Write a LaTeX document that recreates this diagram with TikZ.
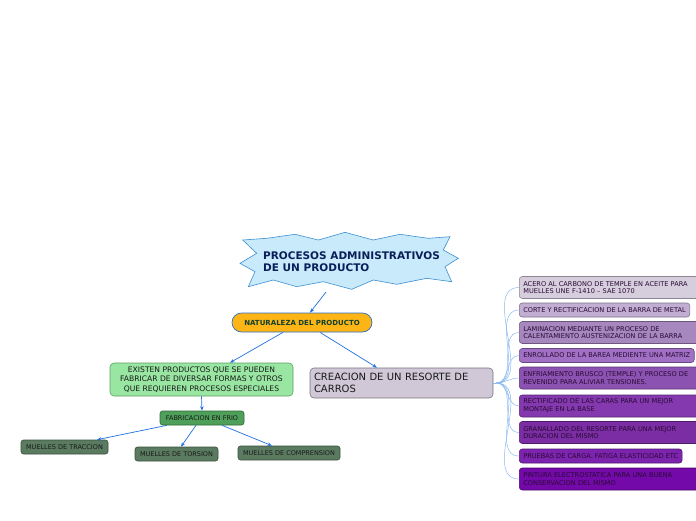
\documentclass[tikz,border=0pt]{standalone}
\usepackage{fontspec}
\setmainfont{DejaVu Sans}
\usetikzlibrary{arrows.meta}

\definecolor{starfill}{HTML}{C8EAFB}
\definecolor{starline}{HTML}{3C8FD0}
\definecolor{titleink}{HTML}{0A1F5A}
\definecolor{natfill}{HTML}{FDB515}
\definecolor{natline}{HTML}{2A6FC8}
\definecolor{natink}{HTML}{0F4030}
\definecolor{arrowblue}{HTML}{1F6FE0}
\definecolor{twigblue}{HTML}{8AB8F0}
\definecolor{exfill}{HTML}{98E6A2}
\definecolor{exline}{HTML}{5E9E66}
\definecolor{fabfill}{HTML}{4E9F5A}
\definecolor{fabline}{HTML}{2F6A38}
\definecolor{mufill}{HTML}{5B7B61}
\definecolor{muline}{HTML}{3A4F3E}
\definecolor{crfill}{HTML}{D0C8D6}
\definecolor{crline}{HTML}{7A7280}
\definecolor{rone}{HTML}{D6CEDD}
\definecolor{rtwo}{HTML}{C2AED3}
\definecolor{rthree}{HTML}{A688BF}
\definecolor{rfour}{HTML}{A070C4}
\definecolor{rfive}{HTML}{8C52B2}
\definecolor{rsix}{HTML}{8439AF}
\definecolor{rseven}{HTML}{7B2DA3}
\definecolor{reight}{HTML}{7C24AE}
\definecolor{rnine}{HTML}{7409A9}
\definecolor{rink}{HTML}{2A0A35}

\tikzset{
  arr/.style={-{Stealth[length=4.5pt,width=3.5pt]}, draw=arrowblue, line width=0.7pt},
  twig/.style={draw=twigblue, line width=0.5pt},
  muelle/.style={draw=muline, fill=mufill, rounded corners=2.5pt, line width=0.6pt,
    font=\fontsize{6.5}{7.8}\selectfont, text=black!90, minimum height=14pt, inner xsep=4pt, inner ysep=0pt},
  rbox/.style={draw=#1!65!black, fill=#1, rounded corners=3pt, line width=0.6pt, anchor=west,
    font=\fontsize{6.6}{7.8}\selectfont, text=rink, align=left, inner xsep=4pt, inner ysep=0pt},
}

\begin{document}
\begin{tikzpicture}[x=1pt, y=-1pt]
    \useasboundingbox (0,0) rectangle (696,520);

    % Title star
    \draw[draw=starline, fill=starfill, line width=0.6pt]
        (242.7,240) -- (266.7,238.3) -- (295,234.3) -- (318.3,240) -- (345,232.3)
        -- (373.3,240) -- (400,234.3) -- (428.3,238.3) -- (450,236.7) -- (443.3,250)
        -- (458.3,258.3) -- (445,266.7) -- (451.7,281.7) -- (426.7,278.3) -- (396.7,284.3)
        -- (373.3,280) -- (351.7,289.3) -- (323.3,281.7) -- (296.7,286.7) -- (273.3,280)
        -- (248.3,286.7) -- (255,271.7) -- (240,263.3) -- (256.7,253.3) -- cycle;
    \node[font=\fontsize{10.5}{12.3}\selectfont\bfseries, text=titleink, align=left, inner sep=0pt]
        (title) at (351.5,261.5) {PROCESOS ADMINISTRATIVOS\\DE UN PRODUCTO};
    \coordinate (titlefoot) at (326,292);

    % Main branch
    \node[draw=natline, fill=natfill, rounded corners=9.5pt, line width=0.7pt,
          minimum width=140pt, minimum height=19pt, inner sep=0pt,
          font=\fontsize{7}{8}\selectfont\bfseries, text=natink]
        (naturaleza) at (302,322.5) {NATURALEZA DEL PRODUCTO};

    \node[draw=exline, fill=exfill, rounded corners=4pt, line width=0.6pt,
          minimum width=183pt, minimum height=33pt, inner sep=0pt, align=center,
          font=\fontsize{7.6}{9.2}\selectfont, text=black!90]
        (existen) at (201.5,379.5) {EXISTEN PRODUCTOS QUE SE PUEDEN\\FABRICAR DE DIVERSAR FORMAS Y OTROS\\QUE REQUIEREN PROCESOS ESPECIALES};

    \node[draw=crline, fill=crfill, rounded corners=4pt, line width=0.6pt,
          minimum height=30pt, inner xsep=4pt, inner ysep=0pt, text width=175pt, align=left,
          font=\fontsize{10}{11.7}\selectfont, text=black!90]
        (creacion) at (401.5,383) {CREACION DE UN RESORTE DE\\CARROS};
    \coordinate (hub) at ([xshift=3pt]creacion.east);

    % Cold forming branch
    \node[draw=fabline, fill=fabfill, rounded corners=2.5pt, line width=0.6pt,
          minimum width=84pt, minimum height=14pt, inner sep=0pt,
          font=\fontsize{6.5}{7.8}\selectfont, text=black!90]
        (fabricacion) at (202,418) {FABRICACION EN FRIO};

    \node[muelle, minimum width=87pt] (traccion) at (64.5,447) {MUELLES DE TRACCION};
    \node[muelle, minimum width=83pt] (torsion) at (176.5,454) {MUELLES DE TORSION};
    \node[muelle, minimum width=102pt] (compresion) at (289,453) {MUELLES DE COMPRENSION};

    % Process steps
    \node[rbox=rone, text width=190pt, minimum height=22pt] (r1) at (519,287.5)
        {ACERO AL CARBONO DE TEMPLE EN ACEITE PARA\\MUELLES UNE F-1410 -- SAE 1070};
    \node[rbox=rtwo, minimum height=14pt] (r2) at (519,310)
        {CORTE Y RECTIFICACION DE LA BARRA DE METAL};
    \node[rbox=rthree, text width=190pt, minimum height=22pt] (r3) at (519,332.5)
        {LAMINACION MEDIANTE UN PROCESO DE\\CALENTAMIENTO AUSTENIZACION DE LA BARRA};
    \node[rbox=rfour, minimum height=14pt] (r4) at (519,355.5)
        {ENROLLADO DE LA BAREA MEDIENTE UNA MATRIZ};
    \node[rbox=rfive, text width=190pt, minimum height=22pt] (r5) at (519,378)
        {ENFRIAMIENTO BRUSCO (TEMPLE) Y PROCESO DE\\REVENIDO PARA ALIVIAR TENSIONES.};
    \node[rbox=rsix, text width=190pt, minimum height=22pt] (r6) at (519,406)
        {RECTIFICADO DE LAS CARAS PARA UN MEJOR\\MONTAJE EN LA BASE};
    \node[rbox=rseven, text width=190pt, minimum height=22pt] (r7) at (519,432.5)
        {GRANALLADO DEL RESORTE PARA UNA MEJOR\\DURACION DEL MISMO};
    \node[rbox=reight, minimum height=14pt] (r8) at (519,456)
        {PRUEBAS DE CARGA. FATIGA ELASTICIDAD ETC};
    \node[rbox=rnine, text width=190pt, minimum height=22pt] (r9) at (519,479)
        {PINTURA ELECTROSTATICA PARA UNA BUENA\\CONSERVACION DEL MISMO};

    % Arrows
    \draw[arr] (titlefoot) -- ([xshift=8pt]naturaleza.north);
    \draw[arr] ([xshift=-19pt]naturaleza.south) -- ([xshift=28.5pt]existen.north);
    \draw[arr] ([xshift=18pt]naturaleza.south) -- ([xshift=-24.5pt]creacion.north);
    \draw[arr] (existen.south) -- (fabricacion.north);
    \draw[arr] ([xshift=-35pt]fabricacion.south) -- ([xshift=32.5pt]traccion.north);
    \draw[arr] ([xshift=-6pt]fabricacion.south) -- ([xshift=4.5pt]torsion.north);
    \draw[arr] ([xshift=20pt]fabricacion.south) -- ([xshift=-17pt]compresion.north);

    % Twigs to the steps
    \draw[twig] (creacion.east) -- (hub);
    \draw[twig] (hub) to[out=0, in=180] (r1.west);
    \draw[twig] (hub) to[out=0, in=180] (r2.west);
    \draw[twig] (hub) to[out=0, in=180] (r3.west);
    \draw[twig] (hub) to[out=0, in=180] (r4.west);
    \draw[twig] (hub) to[out=0, in=180] (r5.west);
    \draw[twig] (hub) to[out=0, in=180] (r6.west);
    \draw[twig] (hub) to[out=0, in=180] (r7.west);
    \draw[twig] (hub) to[out=0, in=180] (r8.west);
    \draw[twig] (hub) to[out=0, in=180] (r9.west);

\end{tikzpicture}
\end{document}
